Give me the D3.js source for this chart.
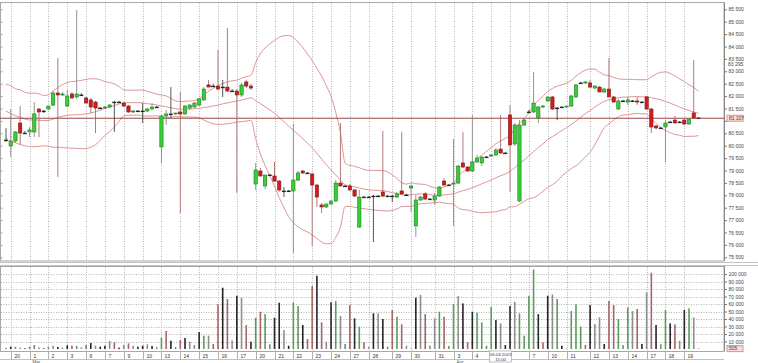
<!DOCTYPE html>
<html>
<head>
<meta charset="utf-8">
<script src="https://cdn.jsdelivr.net/npm/d3@7"></script>
<style>
  body { margin: 0; background: #fff; }
  svg { display: block; font-family: "Liberation Sans", Arial, sans-serif; }
</style>
</head>
<body>
<svg id="chart" width="758" height="363"></svg>
<script>
// trading days shown on the x axis and number of bars in each
const days = ['27','20','1','2','3','6','7','9','10','13','14','15','16','17','20','21','22','23','24','27','28','29','30','31','3','4','5','6','7','10','11','12','13','14','17','18','19'];
const dayBars = [1,4,4,4,4,4,4,4,4,4,4,4,4,4,4,4,4,4,4,4,5,4,5,4,4,4,4,4,4,4,5,4,4,4,4,4,4];
const monthNames = ['Mar', 'Apr'];
const monthFirstDay = [2, 24];

// closes before the visible range (needed for the 20-bar Bollinger band)
const prevClose = [82300,82200,81700,81900,81500,81200,81600,81800,81400,81000,80700,81100,81300,81600,82000,81800,81300,80800,80500];

const open = [
  80230,79990,80190,80915,80510,80555,80555,81480,81400,81480,
  81640,82125,82045,81600,82085,81965,82045,81925,81845,81760,
  81520,81520,81560,81760,81760,81720,81600,81360,81400,81400,
  81400,81480,81560,79950,81200,81280,81280,81360,81280,81520,
  81560,81640,81845,82450,82405,82405,82365,82365,82205,82205,
  82045,82570,82405,78455,78980,78375,78820,78780,78575,78175,
  78175,78175,78615,78980,78900,78860,78415,77610,77530,77650,
  77770,78495,78375,78375,78215,76720,77930,77930,77970,77970,
  78135,77970,77970,77930,78175,78015,78295,76765,77810,78055,
  77850,77810,77970,78575,78415,78455,78495,79305,79140,78980,
  79345,79305,79545,79585,79625,79865,79705,81240,80070,77770,
  80835,81360,81360,81115,81560,81805,81965,81520,81560,81560,
  81600,81965,82530,82530,82530,82325,82365,82165,82285,81965,
  81480,81805,81760,81805,81805,81760,81965,81480,80795,80715,
  80755,80955,81035,80955,81035,80875,81320,81120];
const high = [
  80710,81480,80595,81600,80595,80755,81760,81520,81440,81600,
  82205,83535,82165,82245,82165,85470,82125,81965,81925,81805,
  81560,81600,81680,81805,81805,81760,81640,81440,81440,81720,
  81520,81720,81600,81240,81440,82365,81320,82165,81640,81680,
  81760,81925,82365,82650,82490,83860,82650,84745,82285,82285,
  82530,82650,82490,79305,79100,78615,78860,79345,78615,78335,
  78215,80875,78980,79020,78940,78900,78455,77690,77650,77810,
  78615,80915,78415,78455,78255,78215,77970,77970,78015,78015,
  80595,78015,78015,78135,80555,78055,78415,78015,77970,78135,
  77890,78095,78375,78700,78455,80270,79220,80555,79180,81240,
  79625,79585,79585,79665,79910,81240,79745,81640,80915,81035,
  81115,81440,82970,81600,81640,81965,82005,81560,81600,81600,
  82045,82490,82570,82610,82650,82450,82405,82325,83535,82005,
  81885,81845,81965,81845,81965,81805,82005,81520,80835,80755,
  81035,80995,81200,80995,81075,81115,83455,81160];
const low = [
  80150,79545,80110,80030,80470,80350,80350,80350,81320,81440,
  81600,78740,82005,81560,81885,81885,82005,81720,81320,80510,
  81480,81480,81520,80555,81720,81560,81320,81320,81360,80915,
  81360,81440,81520,79305,80835,81115,81240,77285,81240,81440,
  81520,81600,81805,82365,82365,82245,81965,82165,82165,78095,
  81965,82325,82245,78215,78740,78255,78780,78535,78135,77930,
  78135,75675,78575,78860,78860,75955,77530,77285,77490,77610,
  77730,78375,78335,78175,77930,76680,77890,77890,76115,77930,
  77930,77930,77730,77890,78015,77970,77325,76320,77770,77810,
  77810,77610,77930,78375,78375,76765,78455,79100,78940,78940,
  79305,79180,79505,79545,79585,79665,79665,78135,79990,77730,
  80795,81320,81320,80915,81520,81760,81440,81035,81520,81520,
  81560,81925,82490,82490,82325,82285,82165,82125,81965,81760,
  81440,81760,81640,81760,81640,81720,81440,80510,80675,80675,
  79345,80915,80915,80915,80835,80835,81075,81075];
const close = [
  80230,80190,80555,80510,80510,80635,81280,81360,81400,81600,
  82125,82045,82085,82005,81925,82085,82045,81720,81560,81520,
  81520,81560,81640,81760,81760,81600,81360,81400,81400,81400,
  81480,81560,81560,81200,81280,81280,81320,81280,81600,81640,
  81720,81885,82285,82365,82405,82285,82365,82205,82205,82045,
  82450,82405,82325,79020,78780,78820,78820,78575,78215,78175,
  78175,78615,78900,78900,78900,78415,77930,77530,77650,77770,
  78495,78375,78375,78215,77970,77930,77930,77930,77970,77970,
  77970,77970,77970,78055,78055,78015,78375,77810,77930,77850,
  77850,77970,78335,78415,78415,78495,79180,79140,78980,79345,
  79505,79545,79545,79625,79825,79705,79705,80030,80835,80835,
  81035,81360,81720,81560,81600,81965,81480,81520,81560,81600,
  82005,82450,82530,82570,82365,82405,82165,82285,81965,81760,
  81805,81805,81845,81805,81760,81760,81480,80755,80715,80715,
  80915,80955,80915,80955,80875,81075,81120,81107];
const volume = [
  900,3100,3100,1800,900,3100,5300,2200,900,3100,
  4400,2700,1800,4900,4400,4000,2200,5300,8000,4400,
  3100,4400,10700,8900,1800,5300,7500,4400,3100,4400,
  6200,4000,2700,15100,24000,11100,2700,12000,14700,9800,
  5300,22600,17800,17800,6700,59500,81700,66600,11500,71000,
  68400,32000,9800,41700,49700,46600,6200,41700,61700,25300,
  4400,61700,57300,32000,13300,84000,97700,35500,9800,62200,
  64000,44000,6700,58600,40900,29800,8900,3100,47500,47500,
  40000,3100,52000,43100,32900,4400,600,68400,72000,46600,
  4400,40900,49700,43100,4000,60000,70600,60800,8900,49700,
  48400,35500,4400,56400,38600,34200,5300,57300,63000,47500,
  17800,71000,106000,46600,8900,71000,72800,66600,4400,600,
  50600,59500,29800,5300,58600,33300,42200,6700,64000,58600,
  40000,5300,55500,50600,53300,6700,75500,101700,32000,6200,
  52000,34200,32900,11100,52000,54200,42200,505];
// volume bar group: g buy, r sell, k large block, s small
const volSide = ('kksskggskg' + 'skskrgsrks' + 'kksrksrskk' + 'sksgrkgrks' + 'skgsrrkrsk' +
  'srkgrggkks' + 'kggkrrkrsk' + 'gsgrkgrsks' + 'kgrgrssksr' + 'gsgrggskrk' +
  'ggggkskksg' + 'gggkrksgks' + 'gggrksskrr' + 'gggsrksrkg' + 'gkrskgsk').split('');

const crossTime = ['06.04.2023', '15:00'];
const crossIndex = 105;
const crossPrice = 83295;

// ---------------------------------------------------------------
const svg = d3.select('#chart');
const fmt = v => d3.format(',')(v).replace(/,/g, ' ');
const plotR = 724;
const pTop = 2.5, pBot = 261;
const vTop = 266, vBot = 351;

const x = d3.scaleLinear().domain([-1, 152]).range([1.3, 722]);
const y = d3.scaleLinear().domain([75500, 85500]).range([257.3, 9.3]);
const yv = d3.scaleLinear().domain([0, 100000]).range([349, 274]);
const volColor = d3.scaleOrdinal().domain(['g','r','k','s']).range(['#5c9c5c','#a86464','#262626','#8e8e8e']);

const n = close.length;
const idx = d3.range(n);
const lastClose = close[n - 1];

// start index of every day
const dayStart = [];
let acc = 0;
dayBars.forEach(c => { dayStart.push(acc); acc += c; });
const shownDays = d3.range(1, days.length);
const cx = x(crossIndex);

// bollinger 20, 2
const allClose = prevClose.concat(close);
const bb = idx.map(i => {
  const w = allClose.slice(i + prevClose.length - 19, i + prevClose.length + 1);
  const m = d3.mean(w);
  const sd = Math.sqrt(d3.mean(w, v => (v - m) * (v - m)));
  return { i, mid: m, up: m + 2 * sd, lo: m - 2 * sd };
});

svg.append('defs').append('clipPath').attr('id', 'pclip')
  .append('rect').attr('x', 0).attr('y', pTop).attr('width', plotR).attr('height', pBot - pTop);

// frames
svg.append('rect').attr('x', 0.5).attr('y', pTop).attr('width', plotR - 0.5).attr('height', pBot - pTop)
  .attr('fill', 'none').attr('stroke', '#a8a8a8');
svg.append('rect').attr('x', 0.5).attr('y', vTop + 0.5).attr('width', plotR - 0.5).attr('height', vBot - vTop)
  .attr('fill', 'none').attr('stroke', '#a8a8a8');
[262.5, 265.5].forEach(yy => svg.append('line').attr('x1', 0).attr('x2', 758)
  .attr('y1', yy).attr('y2', yy).attr('stroke', '#c4c4c4'));

// vertical day grid (both panels)
const grid = svg.append('g').attr('stroke', '#b4b4b4').attr('stroke-dasharray', '1,1.5');
shownDays.forEach(d => {
  const gx = Math.round(x(dayStart[d])) + 0.5;
  grid.append('line').attr('x1', gx).attr('x2', gx).attr('y1', pTop + 1).attr('y2', pBot - 1);
  grid.append('line').attr('x1', gx).attr('x2', gx).attr('y1', vTop + 1).attr('y2', vBot);
});
// horizontal volume grid
d3.range(10000, 100001, 10000).forEach(v => {
  const gy = Math.round(yv(v)) + 0.5;
  grid.append('line').attr('x1', 1).attr('x2', plotR).attr('y1', gy).attr('y2', gy);
});

// price axis (label under the last-price tag is hidden, as on the terminal)
const ax = svg.append('g').attr('transform', `translate(${plotR},0)`)
  .call(d3.axisRight(y).tickValues(d3.range(75500, 85501, 500)).tickSize(3).tickPadding(1.5).tickFormat(fmt));
ax.select('.domain').attr('stroke', '#8a8a8a').attr('d', `M0.5,${pTop}V${pBot}`);
ax.selectAll('.tick line').attr('stroke', '#777');
ax.selectAll('text').attr('font-size', 5).attr('fill', '#444').attr('font-family', 'Liberation Sans, Arial');
ax.selectAll('.tick').filter(v => Math.abs(y(v) - y(lastClose)) < 5).select('text').remove();
svg.append('g').attr('transform', 'translate(0.5,0)')
  .call(d3.axisRight(y).tickValues(d3.range(75500, 85501, 500)).tickSize(2).tickFormat(''))
  .call(g => g.select('.domain').remove())
  .selectAll('line').attr('stroke', '#999');

// volume axis
const vax = svg.append('g').attr('transform', `translate(${plotR},0)`)
  .call(d3.axisRight(yv).tickValues(d3.range(10000, 100001, 10000)).tickSize(3).tickPadding(1.5).tickFormat(fmt));
vax.select('.domain').attr('stroke', '#8a8a8a').attr('d', `M0.5,${vTop}V${vBot}`);
vax.selectAll('.tick line').attr('stroke', '#777');
vax.selectAll('text').attr('font-size', 5).attr('fill', '#444').attr('font-family', 'Liberation Sans, Arial');

// bands
const plot = svg.append('g').attr('clip-path', 'url(#pclip)');
['up', 'mid', 'lo'].forEach(k => {
  plot.append('path').datum(bb)
    .attr('fill', 'none').attr('stroke', '#d98a8a').attr('stroke-width', 0.9)
    .attr('d', d3.line().x(d => x(d.i)).y(d => y(d[k])).curve(d3.curveMonotoneX));
});

// last price line
plot.append('line').attr('x1', 0).attr('x2', plotR)
  .attr('y1', y(lastClose)).attr('y2', y(lastClose))
  .attr('stroke', '#8c3434').attr('stroke-width', 0.9);

// candles
const bw = 3.3;
const candles = plot.selectAll('g.c').data(idx).join('g').attr('class', 'c');
candles.append('line')
  .attr('x1', i => x(i)).attr('x2', i => x(i))
  .attr('y1', i => y(high[i])).attr('y2', i => y(low[i]))
  .attr('stroke', i => close[i] > open[i] ? '#8a8a8a' : close[i] < open[i] ? '#b06a6a' : '#444')
  .attr('stroke-width', 0.9);
candles.append('rect')
  .attr('x', i => x(i) - bw / 2)
  .attr('width', bw)
  .attr('y', i => y(Math.max(open[i], close[i])))
  .attr('height', i => Math.max(0.8, Math.abs(y(open[i]) - y(close[i]))))
  .attr('fill', i => close[i] > open[i] ? '#34d034' : close[i] < open[i] ? '#d41c1c' : '#222')
  .attr('stroke', i => close[i] > open[i] ? '#267a26' : close[i] < open[i] ? '#7a1a1a' : '#222')
  .attr('stroke-width', 0.6);

// volume bars
svg.append('g').selectAll('rect').data(idx).join('rect')
  .attr('x', i => x(i) - 0.8).attr('width', 1.6)
  .attr('y', i => yv(volume[i]))
  .attr('height', i => yv(0) - yv(volume[i]))
  .attr('fill', i => volColor(volSide[i]));

// price tags on the axis
function tag(val, yy, fill, color) {
  const g = svg.append('g').attr('transform', `translate(${plotR + 3},${yy})`);
  g.append('rect').attr('x', 0).attr('y', -3).attr('width', 16).attr('height', 6)
    .attr('fill', fill).attr('stroke', '#c99');
  g.append('text').attr('x', 2).attr('y', 1.8).attr('font-size', 5).attr('fill', color).text(val);
}
tag(fmt(lastClose), y(lastClose), '#f6dcdc', '#7a2b2b');
tag(fmt(volume[n - 1]), yv(volume[n - 1]), '#f6dcdc', '#7a2b2b');
svg.append('text').attr('x', plotR + 4).attr('y', y(crossPrice) + 1.8)
  .attr('font-size', 5).attr('fill', '#444').text(fmt(crossPrice));

// date row (labels under the cursor time box are hidden)
const dr = svg.append('g');
dr.append('line').attr('x1', 0).attr('x2', plotR).attr('y1', 359.5).attr('y2', 359.5).attr('stroke', '#c0c0c0');
shownDays.forEach(d => {
  const gx = Math.round(x(dayStart[d])) + 0.5;
  dr.append('line').attr('x1', gx).attr('x2', gx).attr('y1', vBot).attr('y2', 359.5).attr('stroke', '#b0b0b0');
  if (gx + 8 > cx - 11 && gx < cx + 11) return;
  dr.append('text').attr('x', gx + 3).attr('y', 357.5).attr('font-size', 5).attr('fill', '#333').text(days[d]);
});
monthNames.forEach((m, k) => {
  dr.append('text').attr('x', x(dayStart[monthFirstDay[k]]) + 3).attr('y', 363.5)
    .attr('font-size', 4.5).attr('fill', '#555').text(m);
});
const cb = dr.append('g');
cb.append('rect').attr('x', cx - 11).attr('y', vBot).attr('width', 22).attr('height', 11)
  .attr('fill', '#fff').attr('stroke', '#999').attr('stroke-width', 0.6);
cb.append('text').attr('x', cx).attr('y', 355.6).attr('text-anchor', 'middle')
  .attr('font-size', 4.3).attr('fill', '#333').text(crossTime[0]);
cb.append('text').attr('x', cx).attr('y', 360.8).attr('text-anchor', 'middle')
  .attr('font-size', 4.3).attr('fill', '#333').text(crossTime[1]);
</script>
</body>
</html>
